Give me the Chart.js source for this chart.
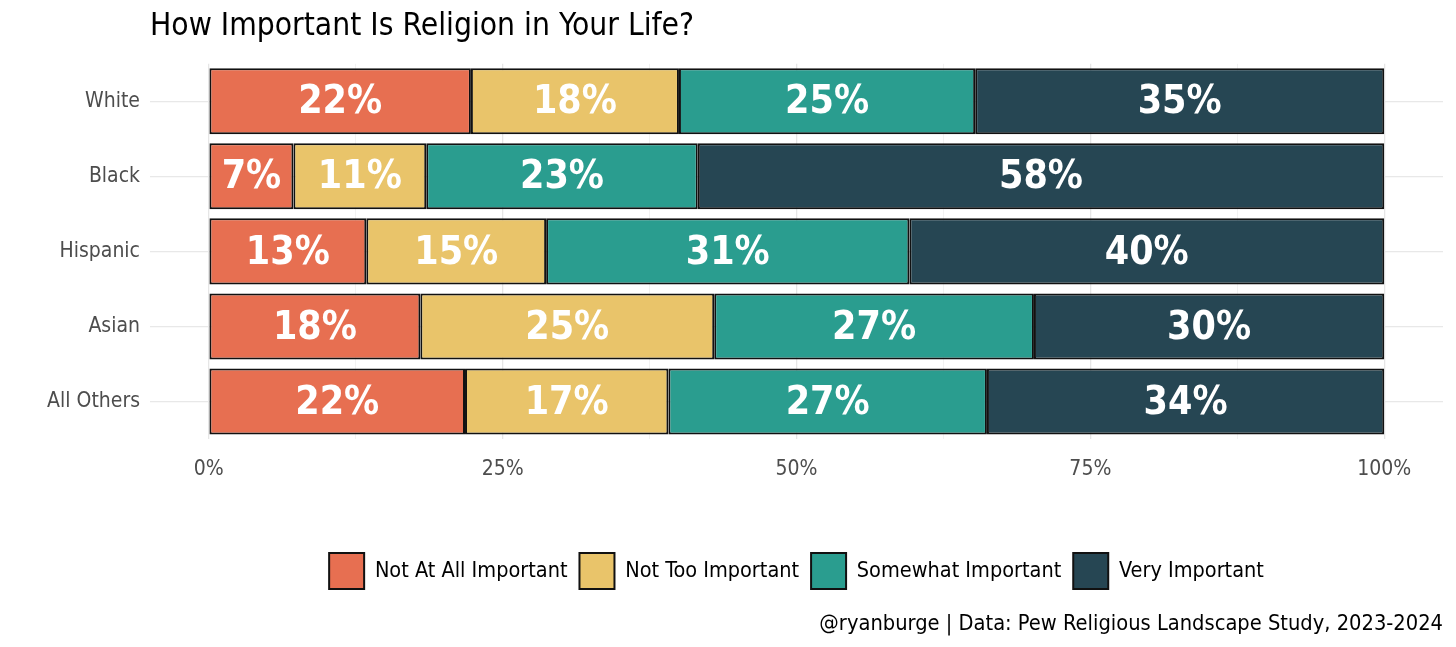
<!DOCTYPE html>
<html>
<head>
<meta charset="utf-8">
<script src="https://cdn.jsdelivr.net/npm/chart.js@4"></script>
<style>
  html, body { margin: 0; padding: 0; background: #fff; }
  #wrap { width: 1456px; height: 647px; }
</style>
</head>
<body>
<div id="wrap"><canvas id="grafico"></canvas></div>
<script>
const FONTE = "'Liberation Sans Narrow', 'DejaVu Sans Condensed', sans-serif";

// dados
const grupos = ["White", "Black", "Hispanic", "Asian", "All Others"];
const notAtAll = [22.3, 7.2, 13.4, 18.0, 21.8];
const notToo = [17.7, 11.3, 15.3, 25.0, 17.3];
const somewhat = [25.2, 23.1, 30.9, 27.2, 27.1];
const very = [34.8, 58.4, 40.4, 29.8, 33.8];
const xTicks = [0, 25, 50, 75, 100];
const xTicksMinor = [12.5, 37.5, 62.5, 87.5];

// rótulos dentro das barras
const rotulosBarras = {
  id: "rotulosBarras",
  afterDatasetsDraw(chart) {
    const ctx = chart.ctx;
    ctx.save();
    ctx.fillStyle = "#ffffff";
    ctx.font = "bold 39px " + FONTE;
    ctx.textAlign = "center";
    ctx.textBaseline = "middle";
    chart.data.datasets.forEach((ds, i) => {
      chart.getDatasetMeta(i).data.forEach((bar, j) => {
        const cx = (bar.x + bar.base) / 2;
        ctx.fillText(Math.round(ds.data[j]) + "%", cx, bar.y + 2);
      });
    });
    ctx.restore();
  }
};

const serie = (label, data, cor) => ({
  label, data,
  backgroundColor: cor,
  borderColor: "#111111",
  borderWidth: 2,
  borderSkipped: false,
  barPercentage: 0.88,
  categoryPercentage: 1
});

const ctx = document.getElementById("grafico").getContext("2d");
const grafico = new Chart(ctx, {
  type: "bar",
  data: {
    labels: grupos,
    datasets: [
      serie("Not At All Important", notAtAll, "#E76F51"),
      serie("Not Too Important", notToo, "#E9C46A"),
      serie("Somewhat Important", somewhat, "#2A9D8F"),
      serie("Very Important", very, "#264653")
    ]
  },
  options: {
    indexAxis: "y",
    responsive: true,
    maintainAspectRatio: false,
    animation: false,
    layout: { padding: { left: 0, right: 13, top: 0, bottom: 10 } },
    scales: {
      x: {
        stacked: true,
        min: -5,
        max: 105,
        afterBuildTicks: scale => {
          scale.ticks = xTicks.concat(xTicksMinor).sort((a, b) => a - b).map(v => ({ value: v }));
        },
        afterFit: scale => { scale.height = 102; },
        border: { display: false },
        grid: {
          drawTicks: false,
          color: c => xTicks.includes(c.tick.value) ? "#e6e6e6" : "#f2f2f2",
          lineWidth: c => xTicks.includes(c.tick.value) ? 1.3 : 1
        },
        ticks: {
          padding: 18,
          autoSkip: false,
          maxRotation: 0,
          color: "#4d4d4d",
          font: { family: FONTE, size: 21 },
          callback: v => xTicks.includes(v) ? v + "%" : ""
        }
      },
      y: {
        stacked: true,
        afterFit: scale => { scale.width = 150; },
        border: { display: false },
        grid: { offset: false, drawTicks: false, color: "#e8e8e8", lineWidth: 1.3 },
        ticks: {
          padding: 10,
          color: "#4d4d4d",
          font: { family: FONTE, size: 21 }
        }
      }
    },
    plugins: {
      title: {
        display: true,
        text: "How Important Is Religion in Your Life?",
        align: "start",
        fullSize: false,
        color: "#000",
        font: { family: FONTE, size: 31.5, weight: "normal" },
        padding: { top: 8, bottom: 18 }
      },
      subtitle: {
        display: true,
        position: "bottom",
        text: "@ryanburge | Data: Pew Religious Landscape Study, 2023-2024",
        align: "end",
        fullSize: false,
        color: "#000",
        font: { family: FONTE, size: 21.7 },
        padding: { top: 12, bottom: 0 }
      },
      legend: {
        position: "bottom",
        fullSize: false,
        labels: {
          color: "#000",
          font: { family: FONTE, size: 21.5 },
          boxWidth: 35,
          boxHeight: 36,
          padding: 12
        }
      },
      tooltip: { enabled: false }
    }
  },
  plugins: [rotulosBarras]
});
</script>
</body>
</html>
